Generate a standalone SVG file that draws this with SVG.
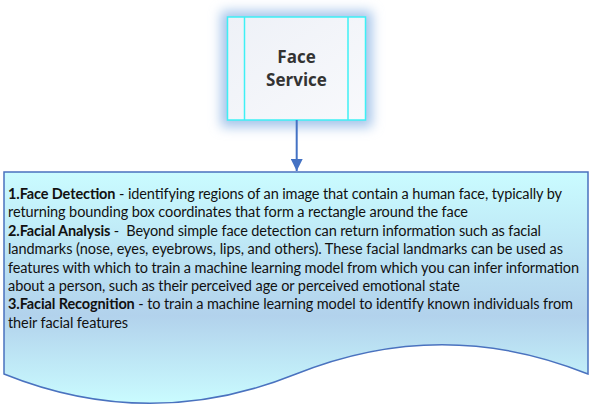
<svg xmlns="http://www.w3.org/2000/svg" width="592" height="405" viewBox="0 0 592 405">
<defs>
<linearGradient id="docFill" x1="0" y1="172" x2="0" y2="404" gradientUnits="userSpaceOnUse">
<stop offset="0" stop-color="#cafcff"/>
<stop offset="0.62" stop-color="#b2d2ec"/>
<stop offset="1" stop-color="#cafcff"/>
</linearGradient>
<linearGradient id="boxFill" x1="0" y1="0" x2="1" y2="1">
<stop offset="0" stop-color="#eef1f7"/>
<stop offset="1" stop-color="#f8f9fc"/>
</linearGradient>
<filter id="glow" x="-40%" y="-40%" width="180%" height="180%">
<feGaussianBlur stdDeviation="6"/>
</filter>
<marker id="arrow" viewBox="0 0 10 10" refX="10" refY="5" markerWidth="12" markerHeight="12" markerUnits="userSpaceOnUse" orient="auto">
<path d="M0,0 L10,5 L0,10 Z" fill="#4472c4"/>
</marker>
<style>
.box{fill:url(#boxFill);stroke:#3ef0f5;stroke-width:1.5}
.div{stroke:#3ef0f5;stroke-width:1.5;fill:none}
.title{font-family:"Open Sans","Liberation Sans",sans-serif;font-weight:bold;font-size:17px;fill:#333333;text-anchor:middle}
.body{font-family:Lato,"Liberation Sans",sans-serif;font-size:14.5px;fill:#111111}
.b{font-weight:bold}
.conn{stroke:#4472c4;stroke-width:2;fill:none}
</style>
</defs>
<g id="face-service">
<rect x="221" y="11" width="151" height="116" fill="#a4c4ea" filter="url(#glow)"/>
<rect class="box" x="227.5" y="17" width="138" height="103"/>
<line class="div" x1="244.5" y1="17" x2="244.5" y2="120"/>
<line class="div" x1="348" y1="17" x2="348" y2="120"/>
<text class="title" x="296.5" y="63">Face</text>
<text class="title" x="296.5" y="86">Service</text>
</g>
<g id="connectors">
<line class="conn" x1="296.7" y1="120" x2="296.7" y2="171" marker-end="url(#arrow)"/>
</g>
<g id="description">
<path d="M4,172 H588 V374 C491,335 393,335 296,374 C199,413 101,413 4,374 Z" fill="url(#docFill)" stroke="#4a72bf" stroke-width="1.5"/>
<text class="body" x="8" y="199" textLength="554"><tspan class="b">1.Face Detection</tspan> - identifying regions of an image that contain a human face, typically by</text>
<text class="body" x="8" y="217.4" textLength="460">returning bounding box coordinates that form a rectangle around the face</text>
<text class="body" x="8" y="235.8" textLength="533" xml:space="preserve"><tspan class="b">2.Facial Analysis</tspan> -  Beyond simple face detection can return information such as facial</text>
<text class="body" x="8" y="254.2" textLength="555">landmarks (nose, eyes, eyebrows, lips, and others). These facial landmarks can be used as</text>
<text class="body" x="8" y="272.6" textLength="571">features with which to train a machine learning model from which you can infer information</text>
<text class="body" x="8" y="291" textLength="452">about a person, such as their perceived age or perceived emotional state</text>
<text class="body" x="8" y="309.4" textLength="565"><tspan class="b">3.Facial Recognition</tspan> - to train a machine learning model to identify known individuals from</text>
<text class="body" x="8" y="327.8" textLength="120">their facial features</text>
</g>
</svg>
